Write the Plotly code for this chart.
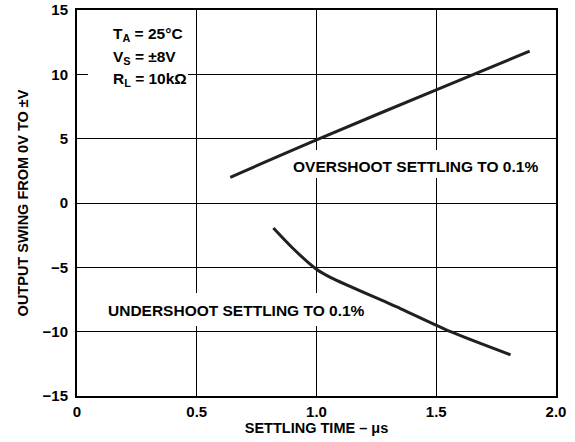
import plotly.graph_objects as go

# Data
over_x = [0.64, 1.0, 1.5, 1.89]
over_y = [2.0, 4.9, 8.8, 11.8]

under_x = [0.82, 0.9, 1.0, 1.06, 1.35, 1.56, 1.81]
under_y = [-1.95, -3.5, -5.15, -5.8, -8.2, -10.0, -11.8]

x_ticks = [0, 0.5, 1.0, 1.5, 2.0]
x_tick_labels = ["0", "0.5", "1.0", "1.5", "2.0"]
y_ticks = [-15, -10, -5, 0, 5, 10, 15]
y_tick_labels = ["\u221215", "\u221210", "\u22125", "0", "5", "10", "15"]

FONT = "Liberation Sans, Arial, Helvetica, sans-serif"
INK = "#231f20"

fig = go.Figure()
fig.add_trace(go.Scatter(x=over_x, y=over_y, mode="lines",
                         line=dict(color=INK, width=3, shape="spline"),
                         showlegend=False, hoverinfo="skip"))
fig.add_trace(go.Scatter(x=under_x, y=under_y, mode="lines",
                         line=dict(color=INK, width=3, shape="spline", smoothing=0.7),
                         showlegend=False, hoverinfo="skip"))

# white masks that break the grid behind the labels (between grid and traces)
masks = [(0.88, 1.95, 1.94, 4.12), (0.09, 1.22, -9.56, -6.99), (0.046, 0.463, 8.78, 10.49)]
for x0, x1, y0, y1 in masks:
    fig.add_shape(type="rect", xref="x", yref="y", x0=x0, x1=x1, y0=y0, y1=y1,
                  fillcolor="white", line=dict(width=0), layer="between")

ann_font = dict(family=FONT, size=15.5, color="black", weight="bold")

fig.add_annotation(x=1.415, y=2.8, text="OVERSHOOT SETTLING TO 0.1%",
                   showarrow=False, font=ann_font,
                   xanchor="center", yanchor="middle")
fig.add_annotation(x=0.665, y=-8.36, text="UNDERSHOOT SETTLING TO 0.1%",
                   showarrow=False, font=ann_font,
                   xanchor="center", yanchor="middle")

cond = [("T<sub>A</sub> = 25°C", 13.06),
        ("V<sub>S</sub> = ±8V", 11.3),
        ("R<sub>L</sub> = 10kΩ", 9.58)]
for txt, yy in cond:
    fig.add_annotation(x=0.13, y=yy, text=txt, showarrow=False, font=ann_font,
                       borderpad=4, xanchor="left", yanchor="middle")

tick_font = dict(family=FONT, size=15, color="black", weight="bold")
title_font = dict(family=FONT, size=14.5, color="black", weight="bold")

fig.update_layout(
    width=575, height=442,
    margin=dict(l=77, r=19, t=10, b=46, autoexpand=False),
    paper_bgcolor="white", plot_bgcolor="white",
    font=dict(family=FONT, size=14, color="black", weight="bold"),
)
fig.update_xaxes(range=[0, 2], tickvals=x_ticks, ticktext=x_tick_labels,
                 showgrid=True, gridcolor="black", gridwidth=1,
                 showline=True, linecolor="black", linewidth=2, mirror=True,
                 zeroline=False, ticks="", ticklabelstandoff=1, automargin=False,
                 tickfont=tick_font,
                 title=dict(text="SETTLING TIME \u2013 \u03bcs", standoff=4,
                            font=title_font))
fig.update_yaxes(range=[-15, 15], tickvals=y_ticks, ticktext=y_tick_labels,
                 showgrid=True, gridcolor="black", gridwidth=1,
                 showline=True, linecolor="black", linewidth=2, mirror=True,
                 zeroline=False, ticks="", ticklabelstandoff=4, automargin=False,
                 tickfont=tick_font,
                 title=dict(text="OUTPUT SWING FROM 0V TO \u00b1V", standoff=10,
                            font=title_font))

fig.write_html("out.html", config={"displayModeBar": False},
               post_script="document.body.style.margin='0';document.body.style.overflow='hidden';")
